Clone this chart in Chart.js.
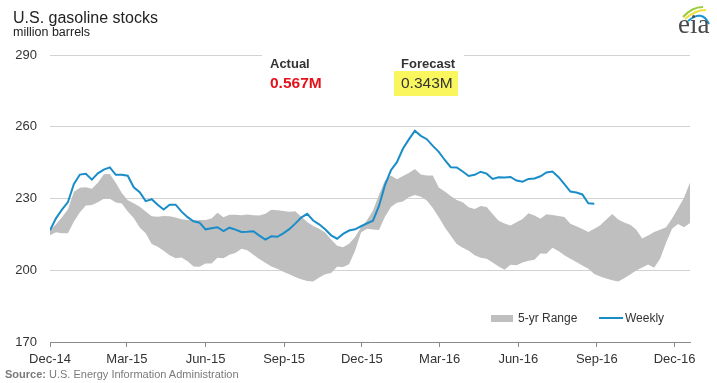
<!DOCTYPE html>
<html>
<head>
<meta charset="utf-8">
<script src="https://cdn.jsdelivr.net/npm/chart.js@4.4.1/dist/chart.umd.min.js"></script>
<style>
  html, body { margin: 0; padding: 0; background: #fff; }
  #wrap { position: relative; width: 717px; height: 383px; overflow: hidden; font-family: 'Liberation Sans', Arial, sans-serif; }
  #c { position: absolute; left: 0; top: 0; }
  .t { position: absolute; white-space: nowrap; line-height: 1; }
</style>
</head>
<body>
<div id="wrap">
  <canvas id="c" width="717" height="383"></canvas>
  <div class="t" style="left:262px;top:49px;width:202px;height:12px;background:#fff;"></div>
  <div class="t" style="left:13px;top:10px;font-size:16px;color:#222;">U.S. gasoline stocks</div>
  <div class="t" style="left:13px;top:26px;font-size:12.5px;color:#222;">million barrels</div>
  <div class="t" style="left:270px;top:57px;font-size:13px;font-weight:bold;color:#333;">Actual</div>
  <div class="t" style="left:270px;top:75px;font-size:15.5px;font-weight:bold;color:#e3121b;">0.567M</div>
  <div class="t" style="left:394px;top:71px;width:64px;height:25px;background:#f9f65e;"></div>
  <div class="t" style="left:401px;top:57px;font-size:13px;font-weight:bold;color:#333;">Forecast</div>
  <div class="t" style="left:401px;top:75px;font-size:15.5px;color:#333;">0.343M</div>
  <div class="t" style="left:491px;top:315px;width:22px;height:7px;background:#bfbfbf;"></div>
  <div class="t" style="left:518px;top:312px;font-size:12px;color:#333;">5-yr Range</div>
  <div class="t" style="left:599px;top:317px;width:24px;height:2px;background:#1a8dc8;"></div>
  <div class="t" style="left:625px;top:312px;font-size:12px;color:#333;">Weekly</div>
  <div class="t" style="left:5px;top:369px;font-size:11px;color:#7a7a7a;"><b>Source:</b> U.S. Energy Information Administration</div>
  <svg class="t" style="left:672px;top:0px;" width="45" height="40">
    <path d="M11 17 Q20 7 31 7" stroke="#9ccb3b" stroke-width="2" fill="none"/>
    <path d="M13 19 Q23 10 34 10" stroke="#f3df3a" stroke-width="2" fill="none"/>
    <path d="M16 21 Q30 9 37 24" stroke="#1793d1" stroke-width="2" fill="none"/>
    <text x="6" y="33" font-family="'Liberation Serif', 'Times New Roman', serif" font-size="27" fill="#4a4a4a">eia</text>
  </svg>
</div>
<script>
// x values are days since Dec 1, 2014; weekly series one value per week
const DAYS_PER_WEEK = 7;
const xMinDay = 0;
const xMaxDay = 749;
const tickDays = [0, 90, 182, 274, 365, 456, 548, 640, 731];
const tickLabels = ['Dec-14', 'Mar-15', 'Jun-15', 'Sep-15', 'Dec-15', 'Mar-16', 'Jun-16', 'Sep-16', 'Dec-16'];
const yMin = 170, yMax = 290, yStep = 30;

const weekly = [216.7, 221.7, 225.4, 228.5, 236.1, 240, 240.3, 237.9, 240.5, 242.1, 243, 239.9, 239.9, 239.5, 234.7, 232.6, 228.9, 229.7, 227.4, 225.4, 227.4, 227.4, 224.5, 222.2, 220.5, 219.9, 217.1, 217.6, 218, 216.4, 217.8, 217, 216, 216.1, 216.3, 214.5, 212.8, 214.2, 214, 215.4, 217.2, 219.5, 222, 223.6, 220.8, 219.2, 217.1, 214.6, 213.2, 215.2, 216.6, 217.1, 218.4, 219.6, 220.7, 226.9, 235.6, 241.8, 245.2, 250.8, 254.7, 258.3, 256.2, 254.8, 252, 249.5, 246.1, 243.1, 243, 241.3, 239.4, 239.9, 241.2, 240.4, 238.2, 238.9, 238.8, 239, 237.5, 237, 238.2, 238.4, 239.3, 240.9, 241.3, 239, 236, 232.9, 232.5, 231.7, 228, 227.8];

const rangeHigh = [216.7, 219.2, 222.2, 225.5, 232.8, 234.5, 234.7, 234.1, 236.6, 240.1, 240.2, 236.6, 232.3, 229.3, 228, 226.5, 224.6, 222.6, 222.4, 222.7, 222.6, 222.1, 221.3, 221, 220.8, 221, 221, 221.6, 224, 222.2, 223.2, 223.2, 223, 223.3, 223, 222.9, 223.6, 225.3, 225.1, 224.8, 224.5, 224.7, 222.4, 220.2, 218.5, 217.4, 215.8, 212.9, 210.2, 209.6, 211.1, 213.9, 218, 220.9, 225, 231.6, 237.5, 239.6, 238.1, 239.4, 240.7, 242.3, 240, 239.6, 239.6, 234.6, 232.9, 231, 229.4, 228.4, 226.3, 225.6, 226.9, 226.4, 223.5, 220.7, 219.5, 218.7, 220.1, 221.4, 223.8, 222.9, 221.5, 223.4, 223.1, 222.7, 222.3, 219.4, 218.4, 217.2, 216, 217.3, 218.8, 221.2, 223.5, 221.2, 220, 219, 217, 213.3, 214.5, 216, 216.9, 218, 221.6, 225.9, 230.3, 236.7];

const rangeLow = [214.6, 215.9, 215.5, 215.5, 220.4, 224.2, 227.1, 227.3, 228.4, 229.9, 229.9, 228.3, 227.9, 224.6, 221.8, 217.9, 215.5, 211, 209.8, 208.2, 206.3, 205, 205.3, 203.8, 201.6, 201.5, 202.8, 202.8, 205.2, 205, 206.5, 207.2, 209, 208.4, 206.5, 204.7, 203.1, 201.6, 200.6, 199.4, 198.3, 197.2, 196.2, 195.5, 195.3, 197, 198.3, 198.9, 201.5, 201.4, 202.5, 208.2, 215.8, 217.4, 217, 216.8, 222.4, 226.4, 228.2, 228.7, 230.5, 231.5, 230.7, 229.2, 226, 222.2, 218, 214.4, 211, 209.4, 208.2, 206.3, 205.2, 204.8, 203.2, 201.6, 200.2, 202.3, 202.1, 203.2, 204, 204.4, 207, 206.9, 209.4, 208, 206.3, 204.8, 203.4, 202, 200.6, 198.4, 197.4, 196.5, 195.8, 195.3, 196.7, 198.2, 199.9, 201.1, 202.4, 201, 204.8, 211.5, 217.4, 219.3, 218, 219.8];

const toPts = arr => arr.map((v, i) => ({ x: i * DAYS_PER_WEEK, y: v }));
const FONT = "'Liberation Sans', Arial, sans-serif";

new Chart(document.getElementById('c'), {
  type: 'line',
  data: {
    datasets: [
      { label: 'Weekly', data: toPts(weekly), borderColor: '#1a8dc8', borderWidth: 2, pointRadius: 0, fill: false, tension: 0, order: 0 },
      { label: '5-yr Range', data: toPts(rangeHigh), borderColor: 'rgba(0,0,0,0)', borderWidth: 0, backgroundColor: '#bfbfbf', pointRadius: 0, fill: '+1', tension: 0, order: 1 },
      { label: 'low', data: toPts(rangeLow), borderColor: 'rgba(0,0,0,0)', borderWidth: 0, pointRadius: 0, fill: false, tension: 0, order: 2 }
    ]
  },
  options: {
    responsive: false,
    animation: false,
    devicePixelRatio: 1,
    layout: { padding: { top: 55, right: 27, left: 0, bottom: 0 } },
    plugins: { legend: { display: false }, tooltip: { enabled: false } },
    scales: {
      x: {
        type: 'linear', min: xMinDay, max: xMaxDay,
        afterFit(s) { s.height = 41; },
        afterBuildTicks(s) { s.ticks = tickDays.map(v => ({ value: v })); },
        ticks: {
          callback: (v, i) => tickLabels[i],
          autoSkip: false, maxRotation: 0, padding: 5,
          font: { family: FONT, size: 13 }, color: '#333'
        },
        grid: { drawOnChartArea: false, drawTicks: true, tickLength: 5, color: '#8a8a8a' },
        border: { color: '#8a8a8a', width: 1 }
      },
      y: {
        min: yMin, max: yMax,
        afterFit(s) { s.width = 50; },
        ticks: { stepSize: yStep, padding: 13, font: { family: FONT, size: 13 }, color: '#333' },
        grid: { color: '#d2d2d2', drawTicks: false },
        border: { display: false }
      }
    }
  }
});
</script>
</body>
</html>
